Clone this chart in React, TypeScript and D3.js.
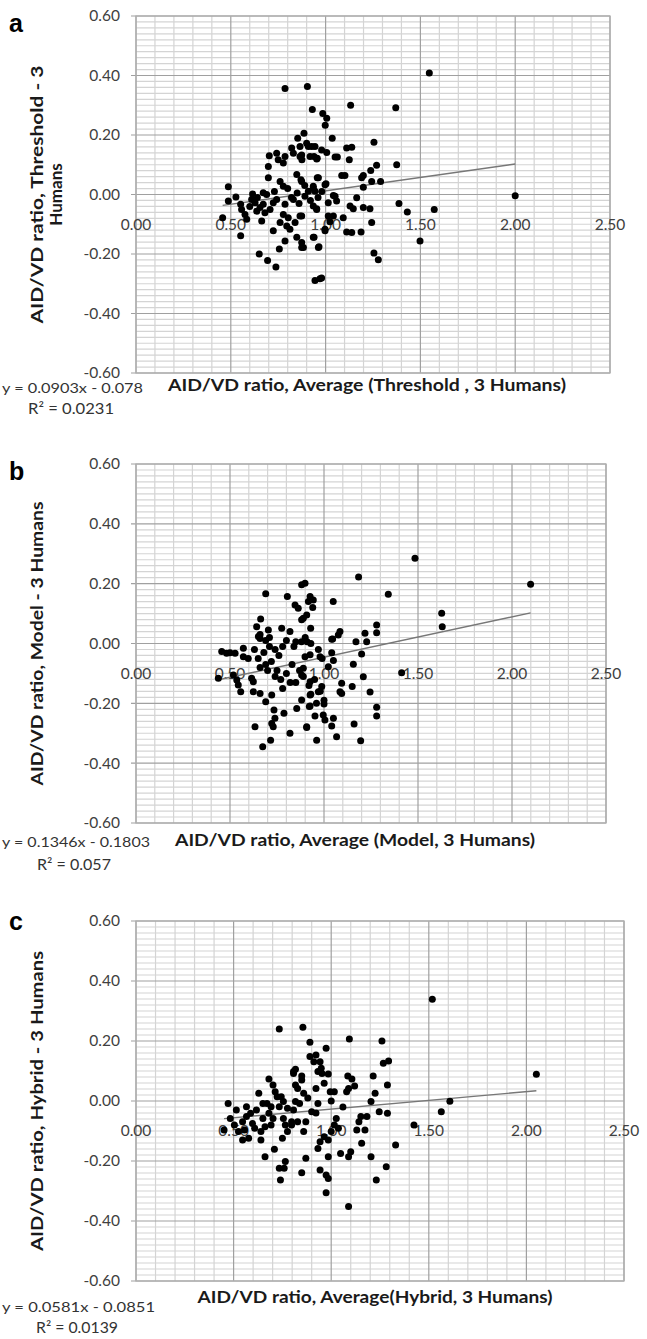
import React from "react";
import * as d3 from "d3";

// ---------- DATA ----------
const xTickValues = [0, 0.5, 1, 1.5, 2, 2.5];
const yTickValues = [0.6, 0.4, 0.2, 0, -0.2, -0.4, -0.6];

const panelLetters = ["a", "b", "c"];
const yTitles = [
  ["AID/VD  ratio, Threshold - 3", "Humans"],
  ["AID/VD ratio, Model - 3 Humans"],
  ["AID/VD ratio, Hybrid - 3 Humans"],
];
const xTitles = [
  "AID/VD ratio, Average (Threshold ,  3 Humans)",
  "AID/VD ratio, Average (Model, 3 Humans)",
  "AID/VD ratio, Average(Hybrid, 3 Humans)",
];
const slopes = [0.0903, 0.1346, 0.0581];
const intercepts = [-0.078, -0.1803, -0.0851];
const equationTexts = ["y = 0.0903x - 0.078", "y = 0.1346x - 0.1803", "y = 0.0581x - 0.0851"];
const r2Texts = ["R\u00B2 = 0.0231", "R\u00B2 = 0.057", "R\u00B2 = 0.0139"];

const pointsA: [number, number][] = [
  [0.457,-0.078],[0.487,0.026],[0.487,-0.022],[0.527,-0.008],[0.552,-0.033],[0.557,-0.05],[0.575,-0.067],
  [0.584,-0.083],[0.552,-0.139],[0.61,-0.017],[0.615,0.002],[0.628,-0.028],[0.654,-0.044],[0.637,-0.056],
  [0.671,-0.033],[0.671,0.006],[0.689,0.0],[0.68,-0.061],[0.707,-0.05],[0.724,-0.028],[0.742,-0.017],
  [0.663,-0.089],[0.724,-0.122],[0.76,-0.094],[0.786,-0.033],[0.777,-0.067],[0.803,-0.078],[0.795,-0.106],
  [0.812,-0.117],[0.786,-0.156],[0.756,-0.183],[0.65,-0.2],[0.694,-0.222],[0.738,-0.244],[0.839,-0.094],
  [0.83,-0.017],[0.865,-0.072],[0.848,-0.144],[0.874,-0.161],[0.883,-0.178],[0.935,-0.039],[0.953,-0.05],
  [0.935,-0.144],[0.962,-0.178],[0.944,-0.289],[0.97,-0.283],[0.979,-0.281],[0.997,-0.117],[0.891,-0.006],
  [0.909,0.011],[0.698,0.094],[0.698,0.056],[0.703,0.13],[0.742,0.139],[0.75,0.117],[0.777,0.106],
  [0.786,0.128],[0.76,0.044],[0.777,0.028],[0.821,0.156],[0.83,0.139],[0.853,0.189],[0.865,0.161],
  [0.848,0.067],[0.87,0.05],[0.886,0.206],[0.9,0.172],[0.909,0.161],[0.865,0.128],[0.875,0.117],
  [0.944,0.161],[0.956,0.122],[0.939,0.128],[0.962,0.056],[0.935,0.028],[0.944,0.011],[0.997,0.033],
  [0.786,0.356],[0.904,0.363],[0.93,0.286],[0.985,0.272],[1.006,0.256],[0.998,0.233],[1.132,0.3],
  [1.37,0.292],[1.547,0.408],[1.035,0.189],[0.927,0.161],[1.111,0.156],[1.138,0.159],[0.979,0.15],
  [1.006,0.141],[1.255,0.176],[1.05,0.126],[1.062,0.126],[1.125,0.117],[0.918,0.128],[0.953,0.119],
  [0.874,0.133],[1.269,0.098],[1.375,0.1],[1.238,0.081],[1.085,0.064],[1.102,0.064],[0.956,0.056],
  [1.19,0.056],[1.199,0.064],[1.002,0.036],[0.874,0.044],[1.243,0.044],[1.29,0.044],[1.199,0.024],
  [0.935,0.022],[1.041,-0.003],[1.164,-0.011],[2.0,-0.004],[1.014,-0.028],[1.05,-0.006],[1.058,-0.022],
  [0.953,-0.048],[0.874,-0.072],[1.014,-0.072],[1.041,-0.072],[1.093,-0.078],[1.129,-0.039],[1.146,-0.048],
  [1.199,-0.044],[1.234,-0.048],[1.023,-0.092],[0.997,-0.122],[1.111,-0.126],[1.138,-0.128],[1.187,-0.126],
  [1.243,-0.094],[0.939,-0.144],[0.965,-0.176],[0.874,-0.178],[1.255,-0.197],[1.278,-0.219],[1.387,-0.03],
  [1.431,-0.059],[1.573,-0.05],[1.498,-0.156],[0.8,0.02],[0.82,-0.01],[0.85,0.005],[0.86,-0.03],
  [0.89,0.03],[0.92,-0.02],[0.96,-0.01],[0.98,0.01],[0.73,0.01],[0.64,-0.01],[0.6,-0.04],
];

const pointsB: [number, number][] = [
  [0.438,-0.116],[0.456,-0.027],[0.482,-0.033],[0.5,-0.031],[0.527,-0.033],[0.571,-0.016],[0.571,-0.044],
  [0.597,-0.05],[0.518,-0.105],[0.536,-0.122],[0.544,-0.139],[0.557,-0.161],[0.615,-0.116],[0.624,-0.128],
  [0.624,-0.161],[0.66,-0.167],[0.633,-0.278],[0.674,-0.345],[0.716,-0.323],[0.722,-0.172],[0.69,-0.195],
  [0.734,-0.222],[0.739,-0.25],[0.722,-0.267],[0.73,-0.278],[0.787,-0.233],[0.819,-0.3],[0.855,-0.217],
  [0.908,-0.278],[0.922,-0.211],[0.961,-0.323],[0.881,-0.189],[0.63,-0.02],[0.65,-0.05],[0.68,-0.03],
  [0.69,-0.07],[0.71,-0.01],[0.72,-0.06],[0.74,-0.02],[0.76,-0.04],[0.78,-0.01],[0.7,-0.09],[0.66,-0.08],
  [0.75,-0.09],[0.77,-0.12],[0.74,-0.11],[0.8,-0.1],[0.78,-0.15],[0.82,-0.13],[0.83,-0.07],[0.87,-0.09],
  [0.89,-0.11],[0.85,-0.13],[0.92,-0.14],[0.93,-0.17],[0.96,-0.2],[0.98,-0.16],[1.0,-0.19],[0.95,-0.12],
  [0.66,0.03],[0.69,0.01],[0.71,0.02],[0.8,0.01],[0.84,-0.01],[0.9,0.02],[0.93,0.0],[0.97,-0.02],
  [0.99,-0.05],[0.69,0.166],[0.805,0.157],[0.881,0.196],[0.899,0.201],[0.846,0.129],[0.863,0.118],
  [0.926,0.157],[0.943,0.145],[0.917,0.14],[0.94,0.12],[0.881,0.079],[0.89,0.084],[0.908,0.095],
  [0.663,0.082],[0.642,0.056],[0.704,0.045],[0.651,0.023],[0.66,0.017],[0.775,0.051],[0.819,0.04],
  [0.929,0.051],[0.85,0.006],[0.88,0.006],[0.91,0.006],[1.484,0.285],[2.099,0.198],[1.184,0.222],
  [1.342,0.165],[1.626,0.101],[1.629,0.056],[1.049,0.14],[1.085,0.04],[1.076,0.028],[1.046,0.015],
  [1.28,0.062],[1.28,0.036],[1.218,0.034],[1.17,0.006],[1.227,0.006],[1.413,-0.098],[1.28,-0.213],
  [1.28,-0.242],[1.245,-0.162],[1.209,-0.111],[1.156,-0.069],[1.2,-0.035],[1.041,0.014],[1.041,-0.031],
  [1.05,-0.057],[1.094,-0.133],[1.094,-0.167],[1.085,-0.161],[1.15,-0.144],[1.0,-0.202],[0.926,-0.209],
  [0.952,-0.242],[0.996,-0.239],[1.005,-0.256],[1.05,-0.25],[1.041,-0.276],[1.16,-0.269],[0.908,-0.281],
  [1.067,-0.312],[1.195,-0.325],[0.988,-0.144],[0.97,-0.161],[0.926,-0.172],[1.023,-0.078],[0.979,-0.044],
  [0.926,-0.038],[0.899,-0.044],[0.926,-0.128],[0.89,-0.083],[0.881,-0.105],
];

const pointsC: [number, number][] = [
  [1.518,0.339],[0.734,0.24],[0.855,0.246],[0.891,0.196],[0.974,0.176],[1.093,0.207],[1.26,0.2],
  [1.294,0.133],[0.891,0.148],[0.922,0.153],[0.911,0.131],[0.943,0.131],[0.949,0.109],[0.932,0.098],
  [0.807,0.098],[0.817,0.106],[0.849,0.083],[0.985,0.09],[1.085,0.083],[1.106,0.073],[1.215,0.083],
  [2.051,0.089],[0.681,0.073],[1.608,-0.001],[1.564,-0.036],[1.424,-0.08],[1.33,-0.147],[1.282,-0.219],
  [1.231,-0.263],[1.204,-0.186],[1.089,-0.352],[0.974,-0.306],[0.985,-0.258],[0.974,-0.247],[0.943,-0.23],
  [0.849,-0.239],[0.74,-0.263],[0.734,-0.224],[0.759,-0.224],[0.765,-0.202],[0.661,-0.186],[0.709,-0.161],
  [0.87,-0.191],[0.932,-0.158],[0.985,-0.186],[1.048,-0.175],[1.089,-0.186],[1.1,-0.169],[1.156,-0.141],
  [1.131,-0.097],[1.173,-0.097],[1.183,-0.052],[1.152,-0.052],[1.142,-0.069],[1.204,-0.002],[1.225,0.026],
  [1.246,-0.036],[1.288,-0.041],[1.267,0.126],[1.288,0.053],[1.089,0.042],[1.079,0.031],[1.016,0.031],
  [0.995,0.031],[1.026,-0.058],[1.016,-0.08],[1.037,-0.091],[1.0,-0.102],[0.964,-0.119],[0.985,-0.13],
  [0.943,-0.136],[0.953,0.092],[0.964,0.059],[0.922,0.042],[0.932,-0.008],[0.9,-0.036],[0.922,-0.04],
  [0.807,0.092],[0.817,0.053],[0.828,0.042],[0.859,0.026],[0.849,0.07],[0.838,-0.008],[0.817,-0.002],
  [0.807,-0.03],[0.797,-0.069],[0.828,-0.069],[0.87,-0.069],[0.859,-0.102],[0.744,0.014],[0.755,-0.002],
  [0.734,-0.019],[0.776,-0.024],[0.755,-0.058],[0.765,-0.08],[0.797,-0.08],[0.75,-0.124],[0.776,-0.102],
  [0.671,-0.008],[0.692,-0.019],[0.681,-0.041],[0.702,-0.058],[0.65,-0.058],[0.661,-0.086],[0.64,-0.102],
  [0.692,-0.08],[0.713,0.031],[0.702,0.053],[0.723,0.014],[0.629,0.026],[0.65,-0.008],[0.617,-0.03],
  [0.64,-0.13],[0.587,-0.041],[0.566,-0.052],[0.546,-0.069],[0.556,-0.097],[0.608,-0.091],[0.577,-0.124],
  [0.525,-0.102],[0.504,-0.08],[0.483,-0.058],[0.472,-0.008],[0.514,-0.03],[0.451,-0.097],[0.546,-0.13],
  [0.566,-0.019],[0.597,-0.075],[1.06,-0.02],[1.12,0.05],[1.0,0.0],[0.88,0.01],
];

const allPoints = [pointsA, pointsB, pointsC];

// ---------- LAYOUT ----------
const layouts = [
  { left: 136, right: 610, top: 16, bottom: 373, letterY: 32, yTitleLen: [258, 0], xTitleX: 367, xTitleLen: 398, titleY: 391, eqY: 393, r2Y: 414, eqLen: 141, r2X: 71, r2Len: 86, yTitleX: [43, 62] },
  { left: 136, right: 606, top: 464, bottom: 823, letterY: 480, yTitleLen: [284], xTitleX: 355, xTitleLen: 360, titleY: 846, eqY: 847, r2Y: 870, eqLen: 148, r2X: 74, r2Len: 74, yTitleX: [43] },
  { left: 136, right: 624, top: 921, bottom: 1281, letterY: 930, yTitleLen: [300], xTitleX: 375, xTitleLen: 355, titleY: 1303, eqY: 1312, r2Y: 1333, eqLen: 153, r2X: 77, r2Len: 82, yTitleX: [43] },
];

const FONT = "Lato, 'Open Sans', Arial, sans-serif";

function Panel({ idx }: { idx: number }) {
  const L = layouts[idx];
  const data = allPoints[idx];
  const x = d3.scaleLinear().domain([0, 2.5]).range([L.left, L.right]);
  const y = d3.scaleLinear().domain([-0.6, 0.6]).range([L.bottom, L.top]);
  const minorX = d3.range(0, 26).map((i) => i / 10);
  const minorY = d3.range(0, 61).map((i) => -0.6 + i * 0.02);
  const isMajorY = (v: number) => Math.abs(Math.round(v * 50)) % 10 === 0;
  const isMajorX = (v: number) => Math.abs(Math.round(v * 10)) % 5 === 0;
  const ext = d3.extent(data, (d) => d[0]) as [number, number];
  const line = d3.line<number>().x((v) => x(v)).y((v) => y(slopes[idx] * v + intercepts[idx]));
  const cy = (L.top + L.bottom) / 2;
  return (
    <g>
      {minorX.filter((v) => !isMajorX(v)).map((v) => (
        <line key={"mx" + v} x1={x(v)} x2={x(v)} y1={L.top} y2={L.bottom} stroke="#d4d4d4" strokeWidth={1.2} />
      ))}
      {minorY.filter((v) => !isMajorY(v)).map((v, i) => (
        <line key={"my" + i} x1={L.left} x2={L.right} y1={y(v)} y2={y(v)} stroke="#d4d4d4" strokeWidth={1.2} />
      ))}
      {xTickValues.map((v) => (
        <line key={"Mx" + v} x1={x(v)} x2={x(v)} y1={L.top} y2={L.bottom} stroke="#a0a0a0" strokeWidth={1.2} />
      ))}
      {yTickValues.map((v) => (
        <line key={"My" + v} x1={L.left - 5} x2={L.right} y1={y(v)} y2={y(v)} stroke="#a0a0a0" strokeWidth={1.2} />
      ))}
      <rect x={L.left} y={L.top} width={L.right - L.left} height={L.bottom - L.top} fill="none" stroke="#b0b0b0" strokeWidth={1.3} />
      {yTickValues.map((v) => (
        <text key={"yl" + v} x={120} y={y(v)} dy="0.35em" textAnchor="end" fontFamily={FONT} fontSize={15.5} fill="#404040">
          {v.toFixed(2)}
        </text>
      ))}
      {xTickValues.map((v) => (
        <text key={"xl" + v} x={x(v)} y={y(0) + 30} dy="0.35em" textAnchor="middle" fontFamily={FONT} fontSize={15.5} fill="#404040">
          {v.toFixed(2)}
        </text>
      ))}
      <path d={line([ext[0], ext[1]]) || ""} stroke="#777" strokeWidth={1.4} fill="none" />
      {data.map((d, i) => (
        <circle key={i} cx={x(d[0])} cy={y(d[1])} r={3.5} fill="#000" />
      ))}
      <text x={9} y={L.letterY} fontFamily="Arial, 'Liberation Sans', sans-serif" fontWeight="bold" fontSize={25} fill="#000">
        {panelLetters[idx]}
      </text>
      {yTitles[idx].map((t, k) => (
        <text
          key={"yt" + k}
          transform={`translate(${L.yTitleX[k]},${cy}) rotate(-90)`}
          textAnchor="middle"
          fontFamily={FONT}
          fontWeight="bold"
          fontSize={17}
          fill="#1a1a1a"
          textLength={L.yTitleLen[k] ? L.yTitleLen[k] : undefined}
          lengthAdjust={L.yTitleLen[k] ? "spacingAndGlyphs" : undefined}
        >
          {t}
        </text>
      ))}
      <text x={L.xTitleX} y={L.titleY} textAnchor="middle" fontFamily={FONT} fontWeight="bold" fontSize={17} fill="#1a1a1a" textLength={L.xTitleLen} lengthAdjust="spacingAndGlyphs">
        {xTitles[idx]}
      </text>
      <text x={2} y={L.eqY} fontFamily={FONT} fontSize={14} fill="#333" textLength={L.eqLen} lengthAdjust="spacingAndGlyphs">
        {equationTexts[idx]}
      </text>
      <text x={L.r2X} y={L.r2Y} textAnchor="middle" fontFamily={FONT} fontSize={15} fill="#333" textLength={L.r2Len} lengthAdjust="spacingAndGlyphs">
        {r2Texts[idx]}
      </text>
    </g>
  );
}

export default function App() {
  return (
    <svg width={647} height={1339} style={{ position: "absolute", left: 0, top: 0, background: "#fff" }}>
      <rect width={647} height={1339} fill="#fff" />
      {[0, 1, 2].map((i) => (
        <Panel key={i} idx={i} />
      ))}
    </svg>
  );
}
